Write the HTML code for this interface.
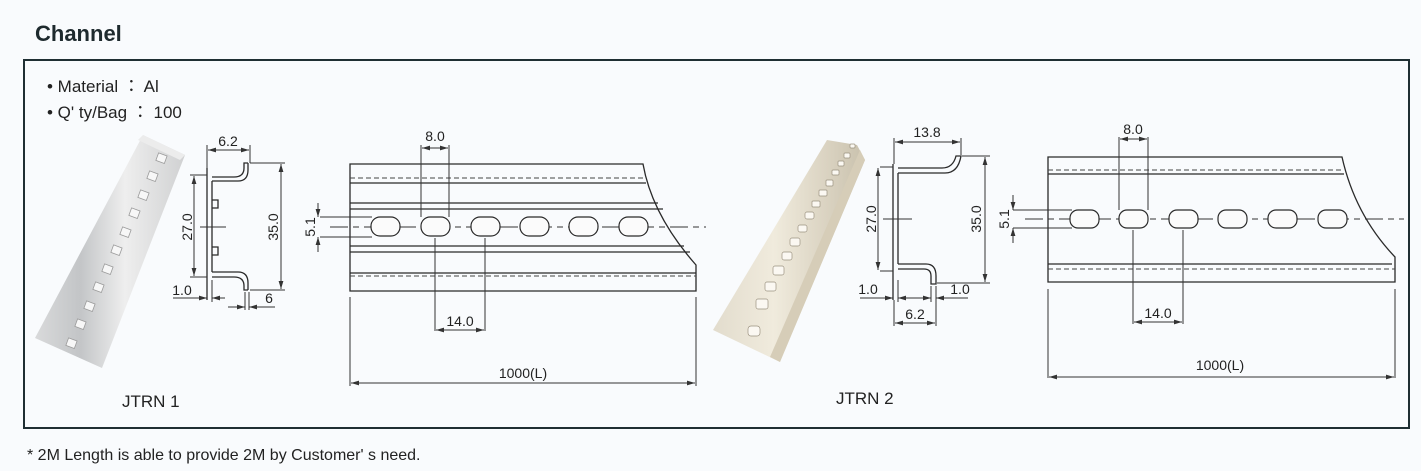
<!DOCTYPE html>
<html><head><meta charset="utf-8"><style>
html,body{margin:0;padding:0;background:#f9fbfd;}
svg{display:block;}
text{font-family:"Liberation Sans","Noto Sans CJK JP",sans-serif;fill:#222;}
.d{stroke:#333;stroke-width:1;fill:none;}
.t{stroke:#2a2a2a;stroke-width:1.3;fill:none;}
.ds{stroke:#444;stroke-width:1;stroke-dasharray:5 3;fill:none;}
.cl{stroke:#333;stroke-width:1;stroke-dasharray:18 5 6 5;fill:none;}
.h{stroke:#2a2a2a;stroke-width:1.2;fill:#fbfbfb;}
.dim{font-size:14px;}
</style></head><body>
<svg width="1421" height="471" viewBox="0 0 1421 471" xmlns="http://www.w3.org/2000/svg">
<defs>
<marker id="a" viewBox="0 0 10 6" refX="10" refY="3" markerWidth="8" markerHeight="5" orient="auto-start-reverse"><path d="M0,0L10,3L0,6z" fill="#333"/></marker>
<linearGradient id="g1" x1="0" y1="0" x2="1" y2="0"><stop offset="0" stop-color="#d9dadb"/><stop offset=".3" stop-color="#c3c5c7"/><stop offset=".6" stop-color="#eeeeee"/><stop offset="1" stop-color="#d0d1d2"/></linearGradient>
<linearGradient id="g2" x1="0" y1="0" x2="1" y2="0"><stop offset="0" stop-color="#e2dccd"/><stop offset=".4" stop-color="#f0ebdd"/><stop offset=".7" stop-color="#ddd6c5"/><stop offset="1" stop-color="#c9c1ad"/></linearGradient>
</defs>

<text x="35" y="41" style="font-size:22px;font-weight:bold;fill:#1e2a2e">Channel</text>
<rect x="24" y="60" width="1385" height="368" fill="none" stroke="#1f2f33" stroke-width="2"/>
<text x="47" y="92" style="font-size:17px">• Material ： Al</text>
<text x="47" y="118" style="font-size:17px">• Q' ty/Bag ： 100</text>
<text x="27" y="460" style="font-size:16px">* 2M Length is able to provide 2M by Customer' s need.</text>

<!-- Photo 1 -->
<polygon points="143,135 185,155 102,368 35,338" fill="url(#g1)"/>
<polygon points="143,135 185,155 180,160 138,140" fill="#ececec"/>
<g fill="#f7f7f7" stroke="#9a9a9a" stroke-width="0.8">
<rect x="157" y="154" width="9" height="8" transform="rotate(20 161 158)"/>
<rect x="148" y="172" width="9" height="8" transform="rotate(20 152 176)"/>
<rect x="139" y="191" width="9" height="8" transform="rotate(20 143 195)"/>
<rect x="130" y="209" width="9" height="8" transform="rotate(20 134 213)"/>
<rect x="121" y="228" width="9" height="8" transform="rotate(20 125 232)"/>
<rect x="112" y="246" width="9" height="8" transform="rotate(20 116 250)"/>
<rect x="103" y="265" width="9" height="8" transform="rotate(20 107 269)"/>
<rect x="94" y="283" width="9" height="8" transform="rotate(20 98 287)"/>
<rect x="85" y="302" width="9" height="8" transform="rotate(20 89 306)"/>
<rect x="76" y="320" width="9" height="8" transform="rotate(20 80 324)"/>
<rect x="67" y="339" width="9" height="8" transform="rotate(20 71 343)"/>
</g>
<text x="122" y="407" style="font-size:17px">JTRN 1</text>

<!-- Profile 1 -->
<path class="t" d="M207,168 V300 M212,181 V272 M212,181 H238 Q248,181 248,170 V163 M212,177 H234 Q244,177 244,168 V163 H248 M212,272 H238 Q248,272 248,283 V290 M212,277 H234 Q244,277 244,286 V290 H248"/>
<path class="t" d="M212,200 h6 v8 h-6 M212,247 h6 v8 h-6"/>
<path class="d" d="M200,227 H226"/>
<path class="d" d="M190,175 H207 M190,277 H207 M250,163 H285 M250,290 H285 M207,145 V168 M250,145 V163 M212,280 V302 M245,292 V310 M249,292 V310"/>
<line class="d" x1="194" y1="176" x2="194" y2="276" marker-start="url(#a)" marker-end="url(#a)"/>
<line class="d" x1="281" y1="164" x2="281" y2="289" marker-start="url(#a)" marker-end="url(#a)"/>
<line class="d" x1="208" y1="150" x2="249" y2="150" marker-start="url(#a)" marker-end="url(#a)"/>
<path class="d" d="M173,298 H207" marker-end="url(#a)"/><path class="d" d="M225,298 H212" marker-end="url(#a)"/>
<path class="d" d="M228,307 H245" marker-end="url(#a)"/><path class="d" d="M275,307 H249" marker-end="url(#a)"/>
<text x="228" y="146" text-anchor="middle" class="dim">6.2</text>
<text x="182" y="295" text-anchor="middle" class="dim">1.0</text>
<text x="269" y="303" text-anchor="middle" class="dim">6</text>
<text transform="translate(192,227) rotate(-90)" text-anchor="middle" class="dim">27.0</text>
<text transform="translate(278,227) rotate(-90)" text-anchor="middle" class="dim">35.0</text>

<!-- Plan 1 -->
<path class="t" d="M350,164 H643 Q652,215 696,265 V291 H350 Z"/>
<path class="t" d="M350,183 H646 M350,203 H658 M350,209 H663 M350,246 H684 M350,252 H690 M350,273 H696"/>
<path class="ds" d="M350,178 H645 M350,276 H696"/>
<line class="cl" x1="330" y1="227" x2="706" y2="227"/>
<g class="h">
<rect x="371" y="217" width="29" height="19" rx="9"/><rect x="421" y="217" width="29" height="19" rx="9"/><rect x="471" y="217" width="29" height="19" rx="9"/><rect x="520" y="217" width="29" height="19" rx="9"/><rect x="569" y="217" width="29" height="19" rx="9"/><rect x="619" y="217" width="29" height="19" rx="9"/>
</g>
<path class="d" d="M421,145 V217 M449,145 V217 M435,238 V331 M485,238 V331 M350,297 V386 M696,297 V386 M320,217 H372 M320,237 H372"/>
<line class="d" x1="422" y1="148" x2="448" y2="148" marker-start="url(#a)" marker-end="url(#a)"/>
<line class="d" x1="436" y1="330" x2="484" y2="330" marker-start="url(#a)" marker-end="url(#a)"/>
<line class="d" x1="351" y1="383" x2="695" y2="383" marker-start="url(#a)" marker-end="url(#a)"/>
<path class="d" d="M318,203 V217" marker-end="url(#a)"/><path class="d" d="M318,252 V237" marker-end="url(#a)"/>
<text x="435" y="141" text-anchor="middle" class="dim">8.0</text>
<text x="460" y="326" text-anchor="middle" class="dim">14.0</text>
<text x="523" y="378" text-anchor="middle" class="dim">1000(L)</text>
<text transform="translate(315,227) rotate(-90)" text-anchor="middle" class="dim">5.1</text>

<!-- Photo 2 -->
<polygon points="827,140 857,145 865,160 780,362 713,330" fill="url(#g2)"/>
<polygon points="780,362 865,160 860,150 770,357" fill="#d6cdb8"/>
<g fill="#fbf8f2" stroke="#9b9280" stroke-width="0.7">
<rect x="850" y="144" width="5" height="4" rx="1"/><rect x="844" y="153" width="6" height="5" rx="1"/><rect x="838" y="161" width="6" height="5" rx="1"/><rect x="832" y="170" width="7" height="5" rx="1"/><rect x="826" y="180" width="7" height="6" rx="1"/><rect x="819" y="190" width="8" height="6" rx="1"/><rect x="812" y="201" width="8" height="6" rx="1"/><rect x="805" y="212" width="9" height="7" rx="2"/><rect x="798" y="225" width="9" height="7" rx="2"/><rect x="790" y="238" width="10" height="8" rx="2"/><rect x="782" y="252" width="10" height="8" rx="2"/><rect x="773" y="266" width="11" height="9" rx="2"/><rect x="765" y="282" width="11" height="9" rx="2"/><rect x="756" y="299" width="12" height="10" rx="2"/><rect x="748" y="326" width="12" height="10" rx="3"/>
</g>
<text x="836" y="404" style="font-size:17px">JTRN 2</text>

<!-- Profile 2 -->
<path class="t" d="M893,164 V300 M898,173 V264 M898,173 H945 Q958,173 961,156 H956 Q953,168 942,168 H898 M898,264 H926 Q936,264 936,276 V284 H931 V276 Q931,269 924,269 H898"/>
<path class="d" d="M883,219 H912 M880,167 H893 M880,271 H893 M962,156 H990 M937,283 H990 M894,138 V164 M961,138 V155 M898,280 V302 M894,300 V326 M931,286 V302 M936,286 V326"/>
<line class="d" x1="878" y1="168" x2="878" y2="270" marker-start="url(#a)" marker-end="url(#a)"/>
<line class="d" x1="985" y1="157" x2="985" y2="282" marker-start="url(#a)" marker-end="url(#a)"/>
<line class="d" x1="895" y1="142" x2="960" y2="142" marker-start="url(#a)" marker-end="url(#a)"/>
<path class="d" d="M860,298 H893" marker-end="url(#a)"/><path class="d" d="M915,298 H898" marker-end="url(#a)"/>
<path class="d" d="M915,298 H931" marker-end="url(#a)"/><path class="d" d="M968,298 H936" marker-end="url(#a)"/>
<line class="d" x1="895" y1="323" x2="935" y2="323" marker-start="url(#a)" marker-end="url(#a)"/>
<text x="927" y="137" text-anchor="middle" class="dim">13.8</text>
<text x="868" y="294" text-anchor="middle" class="dim">1.0</text>
<text x="960" y="294" text-anchor="middle" class="dim">1.0</text>
<text x="915" y="319" text-anchor="middle" class="dim">6.2</text>
<text transform="translate(876,219) rotate(-90)" text-anchor="middle" class="dim">27.0</text>
<text transform="translate(981,219) rotate(-90)" text-anchor="middle" class="dim">35.0</text>

<!-- Plan 2 -->
<path class="t" d="M1048,157 H1342 Q1355,215 1395,257 V282 H1048 Z"/>
<path class="t" d="M1048,174 H1344 M1048,264 H1392"/>
<path class="ds" d="M1048,170 H1343 M1048,269 H1395"/>
<line class="cl" x1="1025" y1="219" x2="1404" y2="219"/>
<g class="h">
<rect x="1070" y="210" width="29" height="18" rx="8"/><rect x="1119" y="210" width="29" height="18" rx="8"/><rect x="1169" y="210" width="29" height="18" rx="8"/><rect x="1218" y="210" width="29" height="18" rx="8"/><rect x="1268" y="210" width="29" height="18" rx="8"/><rect x="1318" y="210" width="29" height="18" rx="8"/>
</g>
<path class="d" d="M1119,137 V210 M1148,137 V210 M1133,230 V324 M1183,230 V324 M1048,289 V378 M1395,289 V378 M1013,210 H1072 M1013,228 H1072"/>
<line class="d" x1="1120" y1="139" x2="1147" y2="139" marker-start="url(#a)" marker-end="url(#a)"/>
<line class="d" x1="1134" y1="322" x2="1182" y2="322" marker-start="url(#a)" marker-end="url(#a)"/>
<line class="d" x1="1049" y1="377" x2="1394" y2="377" marker-start="url(#a)" marker-end="url(#a)"/>
<path class="d" d="M1013,195 V210" marker-end="url(#a)"/><path class="d" d="M1013,243 V228" marker-end="url(#a)"/>
<text x="1133" y="134" text-anchor="middle" class="dim">8.0</text>
<text x="1158" y="318" text-anchor="middle" class="dim">14.0</text>
<text x="1220" y="370" text-anchor="middle" class="dim">1000(L)</text>
<text transform="translate(1009,219) rotate(-90)" text-anchor="middle" class="dim">5.1</text>
</svg>
</body></html>
